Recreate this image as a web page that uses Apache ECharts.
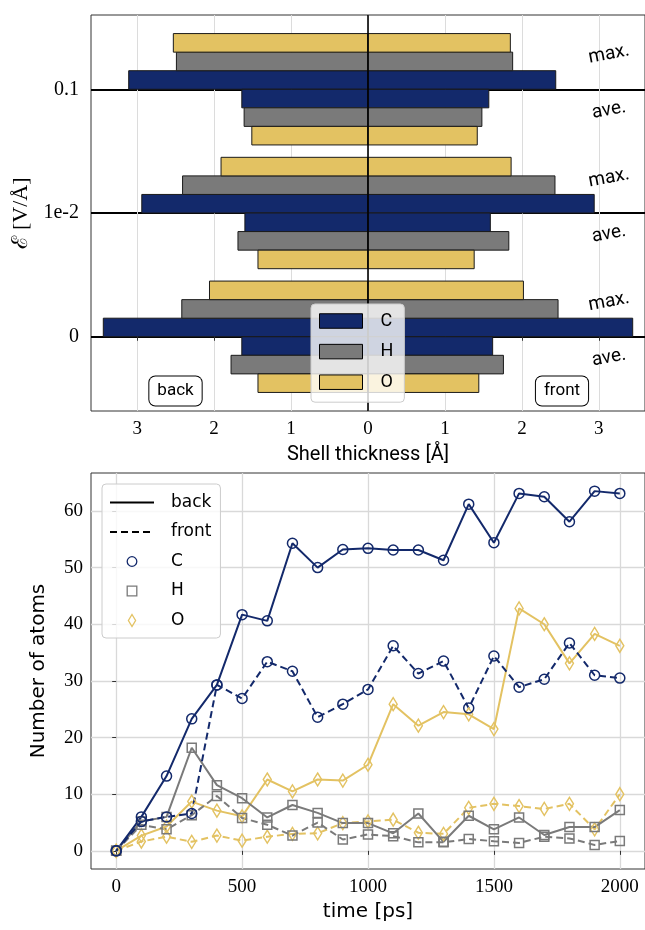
<!DOCTYPE html>
<html><head><meta charset="utf-8">
<script src="https://cdn.jsdelivr.net/npm/echarts@6/dist/echarts.min.js"></script>
<style>html,body{margin:0;padding:0;background:#fff}#c{width:645px;height:930px}</style>
</head><body><div id="c"></div>
<script>
// ---------- top panel data (shell thickness, Å) ----------
const fieldLabels = ['0', '1e-2', '0.1'];          // y tick labels at positions 0,1,2
const fieldPos = [0, 1, 2];
const C_max_back  = [3.44, 2.94, 3.11], C_max_front = [3.44, 2.94, 2.44];
const H_max_back  = [2.42, 2.41, 2.49], H_max_front = [2.47, 2.43, 1.88];
const O_max_back  = [2.06, 1.91, 2.53], O_max_front = [2.02, 1.86, 1.85];
const C_ave_back  = [1.64, 1.60, 1.64], C_ave_front = [1.62, 1.59, 1.57];
const H_ave_back  = [1.78, 1.69, 1.61], H_ave_front = [1.76, 1.83, 1.48];
const O_ave_back  = [1.43, 1.43, 1.51], O_ave_front = [1.44, 1.38, 1.42];
const shellTicks = [-3, -2, -1, 0, 1, 2, 3];

// ---------- bottom panel data (number of atoms) ----------
const time    = [0,100,200,300,400,500,600,700,800,900,1000,1100,1200,1300,1400,1500,1600,1700,1800,1900,2000];
const C_back  = [0,6.0,13.2,23.3,29.3,41.7,40.6,54.3,50.0,53.2,53.4,53.1,53.1,51.3,61.2,54.4,63.1,62.5,58.1,63.5,63.1];
const C_front = [0,5.2,6.0,6.6,29.3,26.9,33.4,31.7,23.6,25.9,28.5,36.2,31.3,33.5,25.2,34.4,28.9,30.3,36.7,31.0,30.5];
const H_back  = [0,5.2,6.0,18.2,11.6,9.3,5.9,8.1,6.7,4.9,4.9,3.1,6.6,1.6,6.2,3.8,5.9,2.8,4.2,4.2,7.2];
const H_front = [0,4.6,3.8,6.3,9.7,5.8,4.6,2.7,5.0,2.0,2.9,2.6,1.5,1.5,2.1,1.7,1.4,2.5,2.2,1.05,1.75];
const O_back  = [0,2.7,4.3,8.7,7.1,6.1,12.6,10.5,12.6,12.4,15.2,25.9,22.1,24.5,24.1,21.5,42.8,40.0,33.1,38.3,36.2];
const O_front = [0,1.65,2.5,1.6,2.7,1.8,2.5,3.0,3.1,4.9,5.2,5.5,3.2,3.0,7.6,8.3,7.9,7.4,8.3,3.8,10.0];
const timeTicks = [0, 500, 1000, 1500, 2000];
const atomTicks = [0, 10, 20, 30, 40, 50, 60];

const NAVY = '#13296b', GRAY = '#7a7a7a', GOLD = '#e3c262';
const TOPSANS = 'Roboto, "Noto Sans", sans-serif';
const SERIF = '"Liberation Serif", "DejaVu Serif", serif';
const BOTSANS = '"DejaVu Sans", sans-serif';
const BAR_H = 0.15;   // bar thickness in y-axis units

function shellData(e, mb, mf, ab, af) {
  const out = [];
  fieldPos.forEach((g, i) => {
    out.push([g, 0, -1, mb[i], e], [g, 0, 1, mf[i], e], [g, 1, -1, ab[i], e], [g, 1, 1, af[i], e]);
  });
  return out;
}
function makeRender(color) {
  return function (params, api) {
    const g = api.value(0), stat = api.value(1), side = api.value(2), v = api.value(3), e = api.value(4);
    let y0, y1;
    if (stat === 0) { y0 = g + e * BAR_H; y1 = g + (e + 1) * BAR_H; }
    else { y0 = g - e * BAR_H; y1 = g - (e + 1) * BAR_H; }
    const p0 = api.coord([0, y0]), p1 = api.coord([side * v, y1]);
    return {
      type: 'rect',
      shape: { x: Math.min(p0[0], p1[0]), y: Math.min(p0[1], p1[1]),
               width: Math.abs(p1[0] - p0[0]), height: Math.abs(p1[1] - p0[1]) },
      style: { fill: color, stroke: '#1a1a1a', lineWidth: 1 }
    };
  };
}
function shellSeries(name, e, color, mb, mf, ab, af, withZero) {
  const s = {
    type: 'custom', name: name, xAxisIndex: 0, yAxisIndex: 0, z: 2,
    data: shellData(e, mb, mf, ab, af), renderItem: makeRender(color),
    itemStyle: { color: color, borderColor: '#1a1a1a', borderWidth: 1 },
    silent: true, clip: true
  };
  if (withZero) {
    s.markLine = { silent: true, symbol: ['none', 'none'], label: { show: false },
      lineStyle: { color: '#000', width: 1.6, type: 'solid' }, data: [{ xAxis: 0 }] };
  }
  return s;
}
function lineSeries(name, ys, color, symbol, size, dashed) {
  return {
    type: 'line', name: name, xAxisIndex: 1, yAxisIndex: 1,
    data: time.map((t, i) => [t, ys[i]]),
    symbol: symbol, symbolSize: size, showSymbol: true, silent: true,
    lineStyle: { color: color, width: 2, type: dashed ? [7, 4] : 'solid' },
    itemStyle: { color: 'rgba(0,0,0,0)', borderColor: color, borderWidth: 1.5 }
  };
}

const chart = echarts.init(document.getElementById('c'));
const option = {
  animation: false,
  backgroundColor: '#fff',
  grid: [
    { left: 91, top: 15, width: 556, height: 396, show: true, borderColor: '#333', borderWidth: 1 },
    { left: 91, top: 473, width: 558, height: 396, show: true, borderColor: '#333', borderWidth: 1 }
  ],
  xAxis: [
    { type: 'value', gridIndex: 0, min: -3.6, max: 3.6,
      axisLine: { show: false },
      axisTick: { show: true, length: 4, lineStyle: { color: '#333' }, customValues: shellTicks },
      axisLabel: { customValues: shellTicks, formatter: v => String(Math.abs(v)), margin: 9,
                   fontFamily: SERIF, fontSize: 19, color: '#000' },
      splitLine: { show: true, lineStyle: { color: '#dcdcdc', width: 1 } },
      name: 'Shell thickness [Å]', nameLocation: 'middle', nameGap: 34,
      nameTextStyle: { fontFamily: TOPSANS, fontSize: 20, color: '#000' } },
    { type: 'value', gridIndex: 1, min: -100, max: 2100,
      axisLine: { show: false },
      axisTick: { show: true, length: 4, lineStyle: { color: '#333' }, customValues: timeTicks },
      axisLabel: { customValues: timeTicks, formatter: v => String(v), margin: 9,
                   fontFamily: SERIF, fontSize: 19, color: '#000' },
      splitLine: { show: true, lineStyle: { color: '#d9d9d9', width: 1.3 } },
      name: 'time [ps]', nameLocation: 'middle', nameGap: 33,
      nameTextStyle: { fontFamily: BOTSANS, fontSize: 20, color: '#000' } }
  ],
  yAxis: [
    { type: 'value', gridIndex: 0, min: -0.6, max: 2.6,
      axisLine: { show: false },
      axisTick: { show: true, length: 5, lineStyle: { color: '#000', width: 2 }, customValues: fieldPos },
      axisLabel: { customValues: fieldPos, formatter: v => fieldLabels[Math.round(v)], margin: 12,
                   fontFamily: SERIF, fontSize: 20, color: '#000' },
      splitLine: { show: true, lineStyle: { color: '#000', width: 2 } },
      name: 'ℰ [V/Å]', nameLocation: 'middle', nameGap: 50,
      nameTextStyle: { fontFamily: SERIF, fontSize: 22, color: '#000' } },
    { type: 'value', gridIndex: 1, min: -3.2, max: 66.7,
      axisLine: { show: false },
      axisTick: { show: true, length: 4, lineStyle: { color: '#333' }, customValues: atomTicks },
      axisLabel: { customValues: atomTicks, margin: 8, fontFamily: SERIF, fontSize: 19, color: '#000' },
      splitLine: { show: true, lineStyle: { color: '#d9d9d9', width: 1.3 } },
      name: 'Number of atoms', nameLocation: 'middle', nameGap: 42,
      nameTextStyle: { fontFamily: BOTSANS, fontSize: 20, color: '#000' } }
  ],
  legend: [
    { orient: 'vertical', left: 311, top: 304, itemWidth: 43, itemHeight: 14.5, itemGap: 12.6,
      padding: [8, 11, 11, 8], backgroundColor: 'rgba(255,255,255,0.8)', borderColor: '#cccccc',
      borderWidth: 1, borderRadius: 4, selectedMode: false, z: 10,
      textStyle: { fontFamily: TOPSANS, fontSize: 18, color: '#000', lineHeight: 17, padding: [0, 0, 0, 13] },
      data: [
        { name: 'C', icon: 'rect', itemStyle: { color: NAVY, borderColor: '#000', borderWidth: 1 } },
        { name: 'H', icon: 'rect', itemStyle: { color: GRAY, borderColor: '#000', borderWidth: 1 } },
        { name: 'O', icon: 'rect', itemStyle: { color: GOLD, borderColor: '#000', borderWidth: 1 } }
      ] },
    { orient: 'vertical', left: 102, top: 484, itemWidth: 44, itemHeight: 12, itemGap: 12.5,
      padding: [10, 9, 9, 7], backgroundColor: 'rgba(255,255,255,0.8)', borderColor: '#cccccc',
      borderWidth: 1, borderRadius: 4, selectedMode: false, z: 10,
      formatter: n => n.replace(' back', ''),
      textStyle: { fontFamily: BOTSANS, fontSize: 17, color: '#000', lineHeight: 17, padding: [0, 0, 0, 12] },
      data: [
        { name: 'back', lineStyle: { color: '#000', width: 1.8, type: 'solid', opacity: 1 }, itemStyle: { opacity: 0 } },
        { name: 'front', lineStyle: { color: '#000', width: 1.8, type: [7, 4], opacity: 1 }, itemStyle: { opacity: 0 } },
        { name: 'C back', lineStyle: { opacity: 0 }, itemStyle: { color: 'rgba(0,0,0,0)', borderColor: NAVY, borderWidth: 1.3 } },
        { name: 'H back', lineStyle: { opacity: 0 }, itemStyle: { color: 'rgba(0,0,0,0)', borderColor: GRAY, borderWidth: 1.3 } },
        { name: 'O back', icon: 'path://M0,-10L6,0L0,10L-6,0Z', itemStyle: { color: 'rgba(0,0,0,0)', borderColor: GOLD, borderWidth: 1.3 } }
      ] }
  ],
  series: [
    shellSeries('C', 0, NAVY, C_max_back, C_max_front, C_ave_back, C_ave_front, false),
    shellSeries('H', 1, GRAY, H_max_back, H_max_front, H_ave_back, H_ave_front, false),
    shellSeries('O', 2, GOLD, O_max_back, O_max_front, O_ave_back, O_ave_front, true),
    { type: 'line', name: 'back', xAxisIndex: 1, yAxisIndex: 1, data: [], symbol: 'none',
      lineStyle: { color: '#000', width: 1.8 }, itemStyle: { color: '#000' } },
    { type: 'line', name: 'front', xAxisIndex: 1, yAxisIndex: 1, data: [], symbol: 'none',
      lineStyle: { color: '#000', width: 1.8, type: [7, 4] }, itemStyle: { color: '#000' } },
    lineSeries('O front', O_front, GOLD, 'diamond', [8, 13], true),
    lineSeries('O back', O_back, GOLD, 'diamond', [8, 13], false),
    lineSeries('H front', H_front, GRAY, 'rect', 9, true),
    lineSeries('H back', H_back, GRAY, 'rect', 9, false),
    lineSeries('C front', C_front, NAVY, 'circle', 10, true),
    lineSeries('C back', C_back, NAVY, 'circle', 10, false)
  ],
  graphic: [
    { type: 'text', x: 175.5, y: 391, z: 20, style: { text: 'back', font: '17px Roboto', fill: '#000',
      align: 'center', verticalAlign: 'middle', backgroundColor: '#fff', borderColor: '#000',
      borderWidth: 1, borderRadius: 6, padding: [6, 8] } },
    { type: 'text', x: 562, y: 391, z: 20, style: { text: 'front', font: '17px Roboto', fill: '#000',
      align: 'center', verticalAlign: 'middle', backgroundColor: '#fff', borderColor: '#000',
      borderWidth: 1, borderRadius: 6, padding: [6, 8] } }
  ]
};
// rotated "max." / "ave." labels for each field group (placed relative to group lines)
const labelRot = 10.5 * Math.PI / 180;
fieldPos.forEach(g => {
  const yl = 15 + (2.6 - g) * (396 / 3.2);
  option.graphic.push({ type: 'text', x: 609, y: yl - 35, rotation: labelRot, z: 20,
    style: { text: 'max.', font: '19px Roboto', fill: '#000', align: 'center', verticalAlign: 'middle' } });
  option.graphic.push({ type: 'text', x: 609, y: yl + 21, rotation: labelRot, z: 20,
    style: { text: 'ave.', font: '19px Roboto', fill: '#000', align: 'center', verticalAlign: 'middle' } });
});
chart.setOption(option);
</script></body></html>
